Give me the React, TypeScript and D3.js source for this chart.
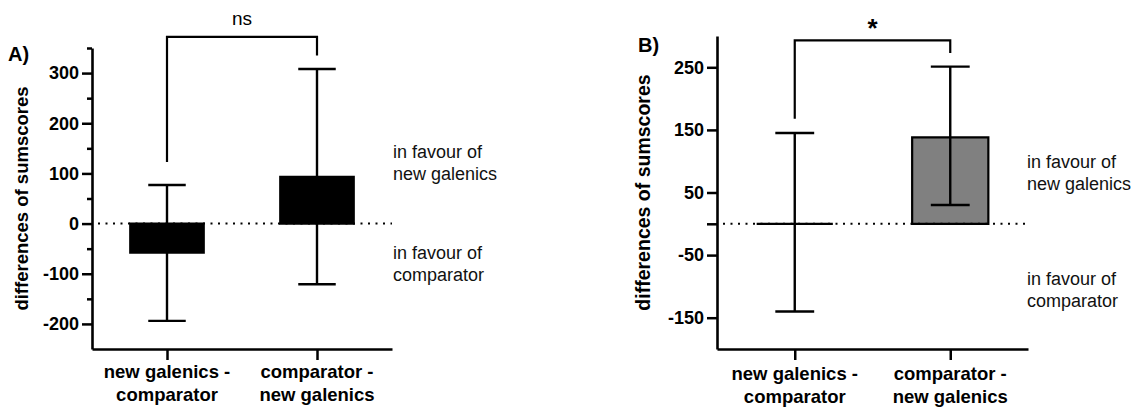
import React, { useRef, useEffect } from 'react';
import * as d3 from 'd3';

// categories / x tick labels
const categories = ['new galenics - comparator', 'comparator - new galenics'];
const categoryLines = [
  ['new galenics -', 'comparator'],
  ['comparator -', 'new galenics'],
];

// panel A values
const meansA = [-58, 93];
const lowA = [-194, -121];
const highA = [77, 308];
const ticksA = [300, 200, 100, 0, -100, -200];
const minorTicksA = [350, 250, 150, 50, -50, -150];

// panel B values
const meansB = [0, 138];
const lowB = [-140, 30];
const highB = [145, 251];
const ticksB = [250, 150, 50, 0, -50, -150];

// significance brackets: [left leg end, right leg end, top]
const bracketA = [123, 335, 372];
const bracketB = [168, 273, 293];

const FONT = '"Liberation Sans", Arial, sans-serif';

type Panel = {
  title: string;
  left: number;
  right: number;
  top: number;
  domain: [number, number];
  means: number[];
  low: number[];
  high: number[];
  ticks: number[];
  minor: number[];
  hideZero: boolean;
  fill: string;
  bracket: number[];
  sig: string;
  sigBold: boolean;
  sigSize: number;
  sigY: number;
  titleX: number;
  titleY: number;
  labelX: number;
  labelSize: number;
  noteX: number;
  noteY: number[];
  catY: number;
};

const panels: Panel[] = [
  {
    title: 'A)',
    left: 92,
    right: 392,
    top: 48,
    domain: [-250, 350],
    means: meansA,
    low: lowA,
    high: highA,
    ticks: ticksA,
    minor: minorTicksA,
    hideZero: false,
    fill: '#000000',
    bracket: bracketA,
    sig: 'ns',
    sigBold: false,
    sigSize: 19,
    sigY: 25,
    titleX: 8,
    titleY: 61,
    labelX: 28,
    labelSize: 18.5,
    noteX: 393,
    noteY: [158, 180, 259, 281],
    catY: 378,
  },
  {
    title: 'B)',
    left: 717,
    right: 1028,
    top: 36,
    domain: [-200, 300],
    means: meansB,
    low: lowB,
    high: highB,
    ticks: ticksB,
    minor: [],
    hideZero: true,
    fill: '#808080',
    bracket: bracketB,
    sig: '*',
    sigBold: true,
    sigSize: 26,
    sigY: 37,
    titleX: 638,
    titleY: 52,
    labelX: 650,
    labelSize: 19.5,
    noteX: 1027,
    noteY: [168, 190, 285, 307],
    catY: 380,
  },
];

const BOTTOM = 349;

function drawPanel(svg: any, p: Panel) {
  const x = d3.scalePoint<string>().domain(categories).range([p.left, p.right]).padding(0.5);
  const y = d3.scaleLinear().domain(p.domain).range([BOTTOM, p.top]);
  const step = x.step();
  const barW = step * 0.49;
  const capW = step * 0.25;

  const g = svg.append('g');

  // minor ticks
  g.append('g')
    .attr('transform', `translate(${p.left},0)`)
    .call(d3.axisLeft(y).tickValues(p.minor).tickSize(5).tickSizeOuter(0).tickFormat(() => ''))
    .call((a: any) => a.select('.domain').remove())
    .selectAll('line')
    .attr('stroke-width', 2.5);

  // y axis
  const yAxis = g
    .append('g')
    .attr('transform', `translate(${p.left},0)`)
    .call(
      d3
        .axisLeft(y)
        .tickValues(p.ticks)
        .tickSize(10)
        .tickSizeOuter(0)
        .tickPadding(3)
        .tickFormat((d: any) => (p.hideZero && d === 0 ? '' : String(d))),
    );
  yAxis.attr('font-family', FONT).attr('font-size', 18).attr('font-weight', 'bold');
  yAxis.select('.domain').attr('stroke-width', 2.6);
  yAxis.selectAll('line').attr('stroke-width', 2.5);
  yAxis.selectAll('text').attr('fill', '#000');

  // x axis
  const xAxis = g
    .append('g')
    .attr('transform', `translate(0,${BOTTOM})`)
    .call(d3.axisBottom(x).tickSize(11).tickSizeOuter(0).tickFormat(() => ''));
  xAxis.select('.domain').attr('stroke-width', 2.6);
  xAxis.selectAll('line').attr('stroke-width', 2.5);

  // category labels
  categories.forEach((c, i) => {
    const t = g
      .append('text')
      .attr('x', x(c))
      .attr('y', p.catY)
      .attr('text-anchor', 'middle')
      .attr('font-family', FONT)
      .attr('font-weight', 'bold')
      .attr('font-size', 18.5);
    categoryLines[i].forEach((line, j) => {
      t.append('tspan')
        .attr('x', x(c))
        .attr('dy', j === 0 ? 0 : 22.5)
        .text(line);
    });
  });

  // bars
  categories.forEach((c, i) => {
    const cx = x(c) as number;
    const y0 = y(Math.max(0, p.means[i]));
    const y1 = y(Math.min(0, p.means[i]));
    const path = d3.path();
    path.moveTo(cx - barW / 2, y0);
    path.lineTo(cx + barW / 2, y0);
    path.lineTo(cx + barW / 2, y1);
    path.lineTo(cx - barW / 2, y1);
    path.closePath();
    g.append('path')
      .attr('d', path.toString())
      .attr('fill', p.fill)
      .attr('stroke', '#000')
      .attr('stroke-width', 2.2);
  });

  // error bars
  categories.forEach((c, i) => {
    const cx = x(c) as number;
    g.append('line')
      .attr('x1', cx)
      .attr('x2', cx)
      .attr('y1', y(p.high[i]))
      .attr('y2', y(p.low[i]))
      .attr('stroke', '#000')
      .attr('stroke-width', 2.4);
    [p.high[i], p.low[i]].forEach((v) => {
      g.append('line')
        .attr('x1', cx - capW / 2)
        .attr('x2', cx + capW / 2)
        .attr('y1', y(v))
        .attr('y2', y(v))
        .attr('stroke', '#000')
        .attr('stroke-width', 2.4);
    });
  });

  // dotted zero line
  g.append('line')
    .attr('x1', p.left + 6)
    .attr('x2', p.right)
    .attr('y1', y(0))
    .attr('y2', y(0))
    .attr('stroke', '#000')
    .attr('stroke-width', 2)
    .attr('stroke-dasharray', '2 5.5');

  // significance bracket
  const [bl, br, bt] = p.bracket;
  const xl = x(categories[0]) as number;
  const xr = x(categories[1]) as number;
  g.append('path')
    .attr('d', `M${xl},${y(bl)}V${y(bt)}H${xr}V${y(br)}`)
    .attr('fill', 'none')
    .attr('stroke', '#000')
    .attr('stroke-width', 2.2);
  g.append('text')
    .attr('x', (xl + xr) / 2)
    .attr('y', p.sigY)
    .attr('text-anchor', 'middle')
    .attr('font-family', FONT)
    .attr('font-weight', p.sigBold ? 'bold' : 'normal')
    .attr('font-size', p.sigSize)
    .text(p.sig);

  // panel title
  g.append('text')
    .attr('x', p.titleX)
    .attr('y', p.titleY)
    .attr('font-family', FONT)
    .attr('font-weight', 'bold')
    .attr('font-size', 20)
    .text(p.title);

  // y axis label
  g.append('text')
    .attr('transform', `translate(${p.labelX},${(BOTTOM + p.top) / 2}) rotate(-90)`)
    .attr('text-anchor', 'middle')
    .attr('font-family', FONT)
    .attr('font-weight', 'bold')
    .attr('font-size', p.labelSize)
    .text('differences of sumscores');

  // side notes
  const notes = ['in favour of', 'new galenics', 'in favour of', 'comparator'];
  notes.forEach((n, i) => {
    g.append('text')
      .attr('x', p.noteX)
      .attr('y', p.noteY[i])
      .attr('font-family', FONT)
      .attr('font-size', 18)
      .attr('fill', '#111')
      .text(n);
  });
}

const App = () => {
  const svgRef = useRef<SVGSVGElement>(null);

  useEffect(() => {
    const svg = d3.select(svgRef.current);
    svg.selectAll('*').remove();
    svg.append('rect').attr('width', 1147).attr('height', 407).attr('fill', '#fff');
    panels.forEach((p) => drawPanel(svg, p));
  }, []);

  return (
    <svg
      ref={svgRef}
      width={1147}
      height={407}
      style={{ position: 'absolute', left: 0, top: 0, display: 'block' }}
    />
  );
};

export default App;
